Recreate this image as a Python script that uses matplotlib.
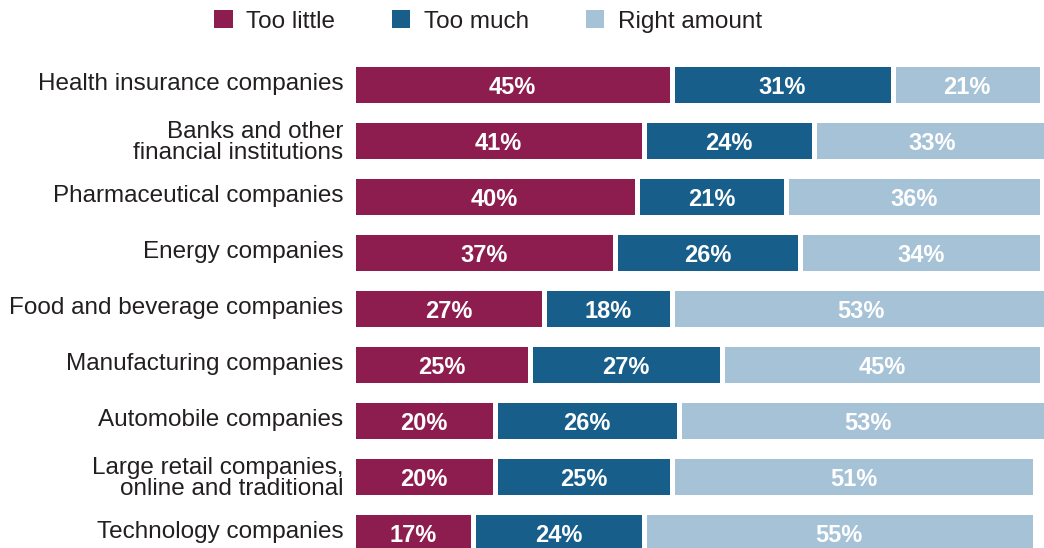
import matplotlib.pyplot as plt
import matplotlib.transforms as mtransforms
from matplotlib.patches import Patch
import numpy as np

categories = [
    "Health insurance companies",
    "Banks and other\nfinancial institutions",
    "Pharmaceutical companies",
    "Energy companies",
    "Food and beverage companies",
    "Manufacturing companies",
    "Automobile companies",
    "Large retail companies,\nonline and traditional",
    "Technology companies",
]
too_little = [45, 41, 40, 37, 27, 25, 20, 20, 17]
too_much = [31, 24, 21, 26, 18, 27, 26, 25, 24]
right_amount = [21, 33, 36, 34, 53, 45, 53, 51, 55]
series_names = ["Too little", "Too much", "Right amount"]

colors = ["#8e1d4f", "#175e8a", "#a6c2d6"]
text_color = "#231f20"
label_font = ["Liberation Sans", "DejaVu Sans"]

fig = plt.figure(figsize=(10.44, 5.48), dpi=100)
ax = fig.add_axes([352.5 / 1044, 0, 1 - 352.5 / 1044, 1])

y = np.arange(len(categories))
left = np.zeros(len(categories))
for values, color in zip([too_little, too_much, right_amount], colors):
    values = np.array(values)
    ax.barh(y, values, left=left, height=0.72, color=color,
            edgecolor="white", linewidth=3.6)
    for yi, l, v in zip(y, left, values):
        ax.text(l + v / 2, yi, f"{v}%", ha="center", va="center_baseline",
                color="white", fontsize=17, fontweight="bold",
                family=label_font)
    left += values

ax.set_xlim(0, 97.3)
ax.set_ylim((548 - 84.5) / 56, -84.5 / 56)
ax.set_yticks(y)
ax.set_yticklabels(categories, fontsize=17.5, color=text_color,
                   family=label_font, linespacing=0.92)
ax.tick_params(axis="y", length=0, pad=6.5)
ax.set_xticks([])
for spine in ax.spines.values():
    spine.set_visible(False)

# single-line labels sit a little above the bar centre
lift = mtransforms.ScaledTranslation(0, 3 / 100, fig.dpi_scale_trans)
for lbl in ax.get_yticklabels():
    if "\n" not in lbl.get_text():
        lbl.set_transform(lbl.get_transform() + lift)

handles = [Patch(facecolor=c, edgecolor="none") for c in colors]
fig.legend(handles, series_names, loc="upper center",
           bbox_to_anchor=(488 / 1044, 1.021), ncol=3, frameon=False,
           handlelength=0.75, handleheight=0.75, handletextpad=0.55,
           columnspacing=2.35, prop={"family": label_font, "size": 17.5},
           labelcolor=text_color)

fig.savefig("out.png", dpi=100)
